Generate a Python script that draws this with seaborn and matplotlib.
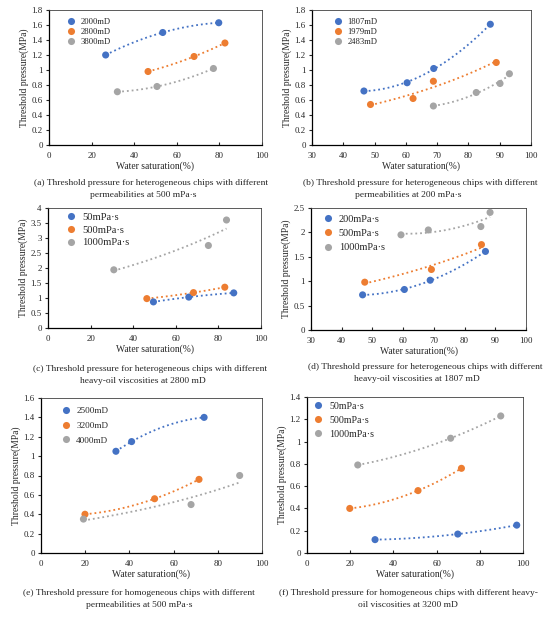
import numpy as np
import pandas as pd
import seaborn as sns
import matplotlib.pyplot as plt
from matplotlib.ticker import FuncFormatter

sns.set_style('ticks')
plt.rcParams['font.family'] = ['Liberation Serif', 'DejaVu Serif']

colors = ['#4472C4', '#ED7D31', '#A5A5A5']

# (a) heterogeneous chips, different permeabilities at 500 mPa·s
a_labels = ['2000mD', '2800mD', '3800mD']
a_sw = [[26.6, 53.4, 79.7], [46.5, 68.1, 82.6], [32.1, 50.7, 77.2]]
a_tp = [[1.20, 1.50, 1.63], [0.98, 1.18, 1.36], [0.71, 0.78, 1.02]]
a_fit = ['poly', 'poly', 'poly']

# (b) heterogeneous chips, different permeabilities at 200 mPa·s
b_labels = ['1807mD', '1979mD', '2483mD']
b_sw = [[46.6, 60.4, 68.9, 87.0], [48.7, 62.3, 68.8, 88.9], [68.8, 82.5, 90.1, 93.1]]
b_tp = [[0.72, 0.83, 1.02, 1.61], [0.54, 0.62, 0.85, 1.10], [0.52, 0.70, 0.82, 0.95]]
b_fit = ['poly', 'exp', 'poly']

# (c) heterogeneous chips, different viscosities at 2800 mD
c_labels = ['50mPa·s', '500mPa·s', '1000mPa·s']
c_sw = [[49.5, 66.1, 87.2], [46.4, 68.3, 83.0], [30.9, 75.3, 83.8]]
c_tp = [[0.87, 1.03, 1.17], [0.98, 1.18, 1.36], [1.94, 2.75, 3.60]]
c_fit = ['poly', 'poly', 'exp']

# (d) heterogeneous chips, different viscosities at 1807 mD
d_labels = ['200mPa·s', '500mPa·s', '1000mPa·s']
d_sw = [[46.8, 60.4, 68.8, 86.8], [47.5, 69.2, 85.5], [59.3, 68.2, 85.3, 88.3]]
d_tp = [[0.72, 0.83, 1.02, 1.61], [0.98, 1.24, 1.75], [1.95, 2.05, 2.12, 2.41]]
d_fit = ['poly', 'exp', 'poly']

# (e) homogeneous chips, different permeabilities at 500 mPa·s
e_labels = ['2500mD', '3200mD', '4000mD']
e_sw = [[33.9, 41.0, 73.8], [19.9, 51.4, 71.5], [19.2, 67.9, 89.9]]
e_tp = [[1.05, 1.15, 1.40], [0.40, 0.56, 0.76], [0.35, 0.50, 0.80]]
e_fit = ['poly', 'poly', 'exp']

# (f) homogeneous chips, different viscosities at 3200 mD
f_labels = ['50mPa·s', '500mPa·s', '1000mPa·s']
f_sw = [[31.5, 69.8, 97.1], [19.8, 51.4, 71.5], [23.5, 66.5, 89.7]]
f_tp = [[0.12, 0.17, 0.25], [0.40, 0.56, 0.76], [0.79, 1.03, 1.23]]
f_fit = ['poly', 'poly', 'poly']


def panel(rect, labels, sw, tp, fits, xlim, xstep, ylim, ystep, leg_xy, leg_fs, leg_sp):
    ax = fig.add_axes(rect)
    rows = []
    for lab, xs, ys in zip(labels, sw, tp):
        rows += [(x, y, lab) for x, y in zip(xs, ys)]
    df = pd.DataFrame(rows, columns=['sw', 'tp', 'series'])

    # dotted trend lines
    for i, (lab, fit) in enumerate(zip(labels, fits)):
        d = df[df.series == lab]
        if fit == 'poly':
            sns.regplot(data=d, x='sw', y='tp', order=2, ci=None, scatter=False,
                        truncate=True, ax=ax,
                        line_kws=dict(color=colors[i], ls=':', lw=1.3))
        else:
            k, b = np.polyfit(d.sw, np.log(d.tp), 1)
            xx = np.linspace(d.sw.min(), d.sw.max(), 60)
            sns.lineplot(x=xx, y=np.exp(b + k * xx), ax=ax, color=colors[i], ls=':', lw=1.3)

    sns.scatterplot(data=df, x='sw', y='tp', hue='series', hue_order=labels, palette=colors,
                    s=26, edgecolor='none', ax=ax, zorder=3)
    old = ax.get_legend()
    handles = old.legend_handles
    ax.legend(handles, labels, loc='upper left', bbox_to_anchor=leg_xy, frameon=False,
              fontsize=leg_fs, labelspacing=leg_sp, handlelength=1.0, handletextpad=0.6,
              borderpad=0, borderaxespad=0, markerscale=1.0)

    ax.set_xlim(*xlim)
    ax.set_ylim(*ylim)
    ax.set_xticks(np.arange(xlim[0], xlim[1] + 0.01, xstep))
    ax.set_yticks(np.arange(ylim[0], ylim[1] + 1e-6, ystep))
    ax.yaxis.set_major_formatter(FuncFormatter(lambda v, p: f'{v:.10g}'))
    ax.tick_params(axis='x', direction='in', length=2.5, width=0.8, pad=5, labelsize=6.4)
    ax.tick_params(axis='y', direction='out', length=2.5, width=0.8, pad=2, labelsize=6.4)
    ax.set_xlabel('Water saturation(%)', fontsize=6.9, labelpad=1)
    ax.set_ylabel('Threshold pressure(MPa)', fontsize=6.9, labelpad=1.5)
    for s in ['left', 'bottom']:
        ax.spines[s].set_color('black')
        ax.spines[s].set_linewidth(0.9)
    for s in ['top', 'right']:
        ax.spines[s].set_color('#404040')
        ax.spines[s].set_linewidth(0.6)
    return ax


W, H = 550, 619
fig = plt.figure(figsize=(5.5, 6.19), dpi=100)


def box(l, r, t, b):
    return [l / W, 1 - b / H, (r - l) / W, (b - t) / H]


panel(box(49, 262, 10, 145), a_labels, a_sw, a_tp, a_fit, (0, 100), 20, (0, 1.8), 0.2,
      (0.082, 0.944), 6.2, 0.28)
panel(box(312, 531, 10, 145), b_labels, b_sw, b_tp, b_fit, (30, 100), 10, (0, 1.8), 0.2,
      (0.098, 0.944), 6.2, 0.28)
panel(box(48, 261, 208, 328), c_labels, c_sw, c_tp, c_fit, (0, 100), 20, (0, 4), 0.5,
      (0.082, 0.96), 7.6, 0.3)
panel(box(311, 526, 208, 330), d_labels, d_sw, d_tp, d_fit, (30, 100), 10, (0, 2.5), 0.5,
      (0.053, 0.947), 7.4, 0.5)
panel(box(41, 262, 398, 553), e_labels, e_sw, e_tp, e_fit, (0, 100), 20, (0, 1.6), 0.2,
      (0.093, 0.945), 6.6, 0.7)
panel(box(307, 523, 397, 553), f_labels, f_sw, f_tp, f_fit, (0, 100), 20, (0, 1.4), 0.2,
      (0.03, 0.971), 7.2, 0.5)

captions = [
    ('(a) Threshold pressure for heterogeneous chips with different', 151, 183),
    ('permeabilities at 500 mPa·s', 143, 195),
    ('(b) Threshold pressure for heterogeneous chips with different', 420, 183),
    ('permeabilities at 200 mPa·s', 408, 195),
    ('(c) Threshold pressure for heterogeneous chips with different', 150, 369),
    ('heavy-oil viscosities at 2800 mD', 143, 381),
    ('(d) Threshold pressure for heterogeneous chips with different', 425, 367),
    ('heavy-oil viscosities at 1807 mD', 417, 379),
    ('(e) Threshold pressure for homogeneous chips with different', 139, 593),
    ('permeabilities at 500 mPa·s', 139, 605),
    ('(f) Threshold pressure for homogeneous chips with different heavy-', 408, 593),
    ('oil viscosities at 3200 mD', 408, 605),
]
for txt, cx, cy in captions:
    fig.text(cx / W, 1 - cy / H, txt, ha='center', va='center', fontsize=6.8)

fig.savefig('out.png', dpi=100, facecolor='white')
